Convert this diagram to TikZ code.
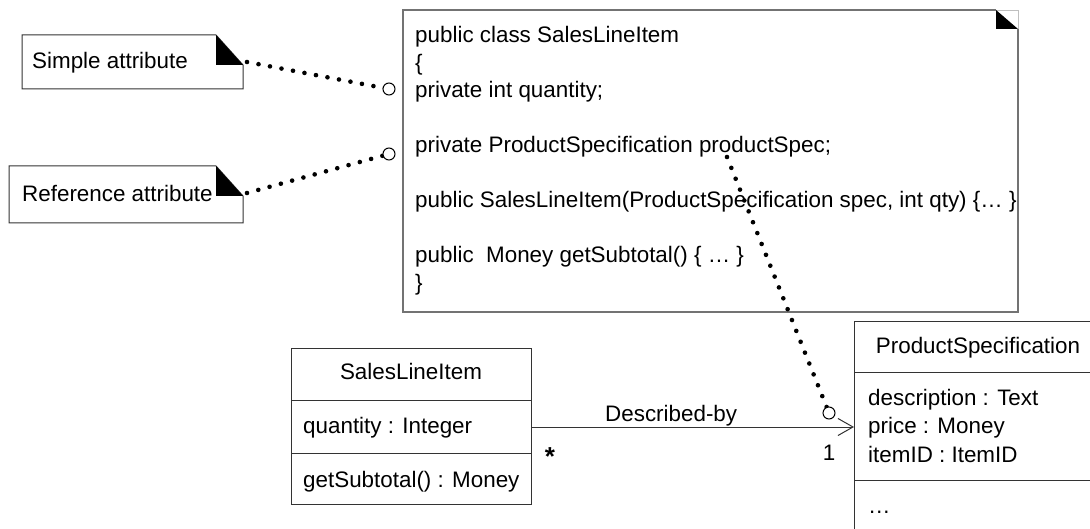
\documentclass[tikz,border=0pt]{standalone}
\usepackage{fontspec}
\setmainfont{Liberation Sans}
\usetikzlibrary{arrows.meta}
\tikzset{
  boxline/.style={draw=black!80, line width=1pt},
  codeline/.style={draw=black!55, line width=1.2pt},
  txt/.style={inner sep=0pt, font=\fontsize{22.4}{27.5}\selectfont},
  codetxt/.style={txt, anchor=base west},
  dotline/.style={line width=4.6pt, line cap=round, dash pattern=on 0pt off 11.7pt},
  pin/.style={circle, draw=black, line width=1pt, minimum size=12pt, inner sep=0pt, fill=white},
  compart/.style={boxline, rectangle, inner sep=0pt, anchor=north west},
}
\begin{document}
\begin{tikzpicture}[x=1pt,y=-1pt]
\clip (0,0) rectangle (1090,529);
\fill[white] (0,0) rectangle (1090,529);

% ---- code note ----
\draw[codeline] (996,10) -- (403,10) -- (403,312) -- (1018,312) -- (1018,29);
\draw[black!25, line width=0.8pt] (996,10) -- (1018,10) -- (1018,29);
\fill[black] (996,10) -- (996,29) -- (1018,29) -- cycle;
\node[codetxt] (code1) at (415,43) {public class SalesLineItem};
\node[codetxt] (code2) at (415,70.5) {\{};
\node[codetxt] (code3) at (415,98) {private int quantity;};
\node[codetxt] (code4) at (415,153) {private ProductSpecification productSpec;};
\node[codetxt] (code5) at (415,208) {public SalesLineItem(ProductSpecification spec, int qty) \{… \}};
\node[codetxt] (code6) at (415,263) {public\ \ Money getSubtotal() \{ … \}};
\node[codetxt] (code7) at (415,290.5) {\}};
\coordinate (specref) at (727,157);

% ---- left notes ----
\draw[boxline] (22,35) -- (216,35) -- (243,65) -- (243,89) -- (22,89) -- cycle;
\fill[black] (216,35) -- (216,65) -- (243,65) -- cycle;
\node[txt, anchor=base west] (simple) at (32,69) {Simple attribute};
\coordinate (n1) at (247,62);

\draw[boxline] (9,166) -- (216,166) -- (243,196) -- (243,223) -- (9,223) -- cycle;
\fill[black] (216,166) -- (216,196) -- (243,196) -- cycle;
\node[txt, anchor=base west] (reference) at (22,202) {Reference attribute};
\coordinate (n2) at (247,193);

% ---- class SalesLineItem ----
\node[compart, minimum width=240pt, minimum height=52pt] (slihead) at (291,348) {};
\node[compart, minimum width=240pt, minimum height=53pt] (sliattr) at (291,400) {};
\node[compart, minimum width=240pt, minimum height=51pt] (slimeth) at (291,453) {};
\node[txt, anchor=base] (sliname) at (411,380) {SalesLineItem};
\node[txt, anchor=base west] (sliq) at (303,433) {quantity : Integer};
\node[txt, anchor=base west] (slis) at (303,487) {getSubtotal() : Money};

% ---- class ProductSpecification ----
\node[compart, minimum width=260pt, minimum height=51pt] (pshead) at (854,321) {};
\node[compart, minimum width=260pt, minimum height=108pt] (psattr) at (854,372) {};
\node[compart, minimum width=260pt, minimum height=70pt] (psmeth) at (854,480) {};
\node[txt, anchor=base] (psname) at (978,353) {ProductSpecification};
\node[txt, anchor=base west] (psd) at (868,405) {description : Text};
\node[txt, anchor=base west] (psp) at (868,433) {price : Money};
\node[txt, anchor=base west] (psi) at (868,462) {itemID : ItemID};
\node[txt, anchor=base west] (psdots) at (868,513) {…};

% ---- association ----
\draw[boxline, -{Straight Barb[length=15pt,width=17pt]}] (sliattr.east) -- (sliattr.east -| psattr.west);
\node[txt, anchor=base west] (assoc) at (605,421) {Described-by};
\node[inner sep=0pt, anchor=base, font=\fontsize{26}{30}\selectfont\bfseries] (mstar) at (550,465) {*};
\node[txt, anchor=base] (mone) at (829,460) {1};

% ---- pins and dotted connectors ----
\coordinate (p1) at (389,89);
\coordinate (p2) at (389,154);
\coordinate (p3) at (829,413);
\draw[dotline] (n1) -- (p1);
\draw[dotline] (n2) -- (p2);
\draw[dotline] (specref) -- (p3);
\node[pin] (c1) at (p1) {};
\node[pin] (c2) at (p2) {};
\node[pin] (c3) at (p3) {};
\end{tikzpicture}
\end{document}
